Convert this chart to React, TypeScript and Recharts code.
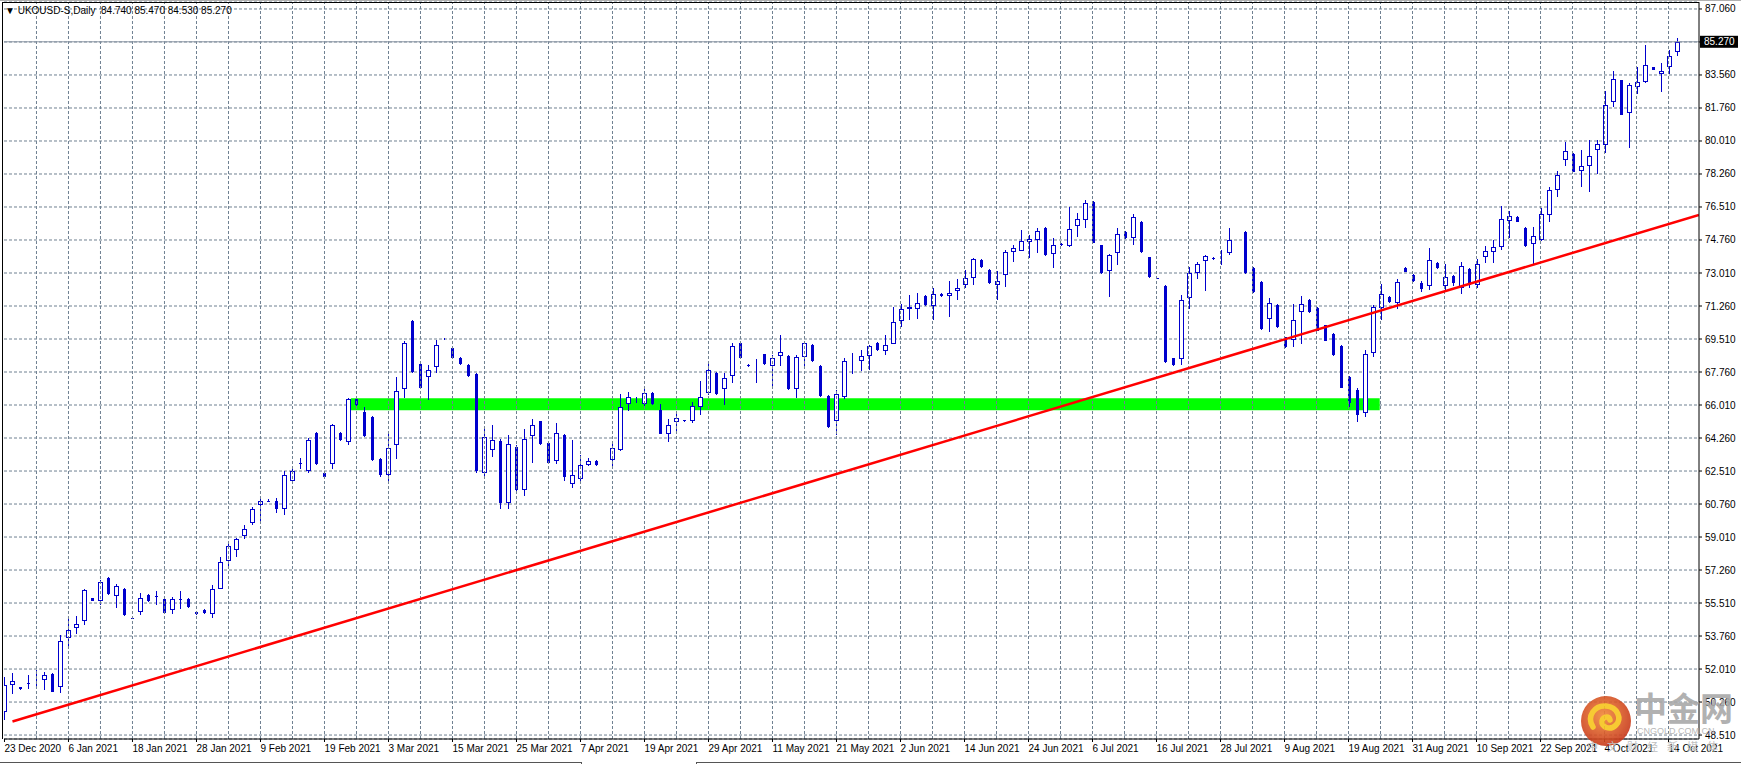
import {
  Bar,
  CartesianGrid,
  ComposedChart,
  ReferenceArea,
  ReferenceLine,
  XAxis,
  YAxis,
} from 'recharts';

const symbol = 'UKOUSD-S,Daily';
const lastQuote = ['84.740', '85.470', '84.530', '85.270'];
const lastPrice = 85.27;

// daily OHLC, 23 Dec 2020 .. 15 Oct 2021 (one bar per trading day)
const openPrices = [
  49.73, 51.16, 51.05, 51.28, 51.42, 51.41, 51.76, 51.06, 53.65, 54.18,
  54.55, 55.79, 55.62, 56.84, 55.88, 56.27, 54.72, 55.03, 55.95, 55.88,
  55.74, 55.14, 55.74, 55.74, 55.03, 55.16, 54.93, 56.27, 57.74, 58.32,
  59.06, 59.73, 60.72, 60.94, 60.9, 60.5, 62.0, 62.94, 62.5, 64.54,
  62.4, 62.86, 64.54, 64.03, 66.31, 65.64, 65.39, 63.16, 62.3, 63.87,
  66.86, 70.48, 68.2, 67.49, 68.03, 69.5, 69.05, 68.52, 68.15, 67.67,
  62.4, 63.61, 64.1, 60.8, 63.78, 61.5, 64.35, 65.16, 64.01, 63.03,
  64.44, 61.8, 62.1, 62.81, 63.06, 62.99, 63.08, 63.64, 66.05, 66.38,
  66.05, 66.66, 65.73, 64.45, 65.11, 65.22, 65.14, 65.9, 66.63, 67.72,
  66.84, 67.55, 69.32, 68.15, 68.02, 68.71, 68.08, 68.61, 68.63, 66.88,
  68.56, 69.21, 68.1, 66.5, 65.14, 66.43, 68.3, 68.34, 68.61, 69.32,
  68.87, 69.25, 70.45, 71.1, 71.1, 71.81, 71.26, 71.91, 71.79, 72.06,
  72.37, 72.74, 73.72, 73.19, 72.36, 72.89, 74.12, 74.18, 74.67, 74.76,
  75.41, 74.02, 74.56, 74.42, 75.5, 75.82, 76.79, 74.49, 73.12, 74.05,
  75.2, 74.87, 75.73, 73.86, 72.72, 72.34, 68.5, 68.43, 71.68, 73.01,
  73.65, 73.82, 73.77, 74.07, 74.76, 75.2, 73.29, 72.55, 70.57, 71.33,
  69.62, 69.46, 70.94, 71.6, 71.17, 70.23, 69.79, 69.16, 67.51, 66.82,
  65.6, 68.77, 71.15, 71.75, 71.4, 73.29, 72.92, 72.5, 72.3, 73.56,
  72.3, 72.87, 72.2, 73.24, 72.4, 73.84, 74.12, 74.37, 75.77, 75.99,
  75.41, 74.53, 74.77, 76.1, 77.42, 79.02, 79.34, 78.4, 78.69, 79.52,
  79.8, 82.06, 83.22, 81.51, 82.89, 83.15, 83.92, 83.54, 83.95, 84.74,
];
const highPrices = [
  51.59, 51.82, 51.08, 51.71, 51.94, 51.85, 51.78, 53.83, 54.68, 54.82,
  56.23, 55.8, 56.75, 56.87, 56.53, 56.29, 54.74, 56.06, 55.97, 56.16,
  55.78, 55.85, 56.13, 55.76, 55.05, 55.18, 56.45, 57.95, 58.8, 58.96,
  59.63, 60.58, 61.13, 61.0, 61.1, 62.5, 62.6, 63.2, 64.25, 64.6,
  62.5, 65.02, 64.56, 66.4, 66.4, 65.9, 65.41, 63.18, 64.54, 67.51,
  69.4, 70.5, 68.22, 68.13, 69.47, 69.55, 69.07, 68.54, 68.17, 67.69,
  64.75, 64.93, 64.2, 64.4, 63.9, 64.75, 65.29, 65.18, 64.03, 65.07,
  64.46, 64.17, 63.38, 63.22, 63.08, 63.01, 63.96, 66.61, 66.7, 66.45,
  66.88, 66.68, 66.05, 65.29, 65.67, 65.24, 66.17, 67.3, 68.36, 67.75,
  67.71, 69.32, 69.34, 68.17, 68.47, 68.73, 68.64, 69.74, 68.65, 68.64,
  69.39, 69.23, 68.12, 66.52, 66.82, 68.52, 68.79, 68.94, 69.21, 69.34,
  69.74, 71.22, 71.37, 71.86, 71.95, 71.83, 72.21, 71.93, 72.6, 72.71,
  73.15, 73.82, 73.74, 73.21, 73.1, 74.25, 74.51, 75.31, 75.03, 75.41,
  75.43, 74.88, 74.58, 76.51, 76.21, 76.88, 76.81, 74.51, 74.03, 75.41,
  75.22, 76.16, 75.75, 73.88, 72.74, 72.36, 68.52, 71.86, 73.33, 73.58,
  73.98, 73.84, 74.25, 75.4, 74.78, 75.22, 73.31, 72.57, 71.7, 71.35,
  69.64, 71.38, 71.81, 71.62, 71.19, 70.25, 69.81, 69.18, 67.55, 66.9,
  68.91, 71.33, 72.44, 71.77, 72.69, 73.31, 72.94, 72.6, 74.35, 73.6,
  73.5, 72.9, 73.61, 73.3, 73.77, 74.46, 74.78, 76.58, 76.3, 76.01,
  75.43, 75.47, 76.46, 77.55, 78.4, 79.98, 79.36, 79.52, 80.06, 80.06,
  82.65, 83.72, 83.24, 83.07, 83.92, 85.09, 83.94, 84.13, 84.83, 85.47,
];
const lowPrices = [
  49.29, 50.67, 50.9, 50.93, 50.93, 50.88, 50.77, 50.74, 53.05, 53.88,
  54.33, 55.6, 55.42, 55.95, 55.24, 54.84, 54.68, 54.86, 55.58, 55.39,
  54.94, 54.91, 55.17, 55.26, 54.89, 54.94, 54.73, 56.23, 57.37, 57.95,
  58.92, 59.63, 59.88, 60.85, 60.3, 60.2, 61.8, 62.63, 62.4, 62.85,
  62.1, 62.6, 64.12, 63.87, 65.95, 64.33, 63.06, 62.2, 62.0, 63.16,
  66.4, 67.72, 66.91, 66.26, 67.71, 69.45, 68.46, 68.15, 67.51, 62.4,
  62.2, 63.25, 60.5, 60.5, 61.3, 61.2, 62.95, 63.9, 62.93, 62.9,
  62.0, 61.6, 61.9, 62.75, 62.79, 62.97, 62.63, 63.55, 65.67, 66.1,
  65.82, 66.03, 64.47, 64.05, 64.49, 65.13, 65.04, 65.46, 66.52, 66.56,
  65.99, 67.19, 68.46, 68.04, 67.19, 68.15, 66.96, 68.06, 66.82, 66.38,
  67.94, 68.31, 66.45, 64.81, 64.44, 66.35, 67.67, 67.83, 67.88, 68.89,
  68.64, 69.23, 70.15, 70.5, 70.55, 71.28, 70.5, 71.75, 70.66, 71.56,
  72.21, 72.36, 73.29, 72.44, 71.56, 72.25, 73.58, 74.16, 73.81, 74.09,
  73.93, 73.26, 74.46, 74.39, 74.94, 75.41, 74.58, 72.97, 71.74, 73.42,
  74.83, 74.48, 74.09, 72.76, 72.68, 68.25, 68.09, 68.11, 71.12, 72.67,
  72.04, 73.71, 73.42, 73.95, 74.74, 72.97, 71.96, 70.0, 69.86, 70.11,
  69.05, 69.07, 69.23, 70.9, 69.91, 69.4, 68.62, 66.91, 65.9, 65.1,
  65.4, 68.56, 70.5, 71.43, 71.12, 73.06, 72.55, 72.0, 72.1, 73.2,
  72.1, 72.3, 71.9, 72.2, 72.2, 73.52, 73.54, 74.23, 74.87, 75.69,
  74.4, 73.5, 74.7, 75.73, 77.03, 78.69, 78.36, 77.55, 77.29, 78.25,
  79.39, 81.82, 81.39, 79.62, 82.5, 83.1, 83.75, 82.6, 83.54, 84.53,
];
const closePrices = [
  51.14, 51.37, 50.93, 51.2, 51.44, 51.71, 50.79, 53.49, 54.08, 54.4,
  56.2, 55.62, 56.62, 55.97, 56.41, 54.86, 54.7, 55.77, 55.6, 55.86,
  54.96, 55.74, 55.65, 55.28, 54.91, 54.96, 56.25, 57.68, 58.53, 58.9,
  59.43, 60.51, 60.92, 60.9, 60.5, 62.3, 62.5, 62.9, 64.15, 62.9,
  62.2, 64.97, 64.14, 66.35, 66.03, 64.35, 63.08, 62.3, 63.73, 66.75,
  69.32, 67.74, 66.93, 67.87, 69.19, 69.5, 68.48, 68.17, 67.53, 62.5,
  64.31, 64.15, 60.8, 63.96, 61.5, 64.22, 64.97, 63.92, 62.95, 64.54,
  62.2, 62.3, 62.81, 63.04, 62.81, 62.99, 63.73, 65.9, 66.43, 66.4,
  66.65, 66.05, 64.49, 64.97, 65.32, 65.15, 65.97, 66.45, 67.87, 66.58,
  67.46, 69.14, 68.48, 68.06, 68.03, 68.17, 68.5, 68.82, 66.84, 68.56,
  69.3, 68.33, 66.47, 64.83, 66.59, 68.34, 68.36, 68.61, 69.14, 68.91,
  69.19, 70.41, 71.1, 71.22, 71.42, 71.3, 71.9, 71.77, 71.95, 72.21,
  72.74, 73.77, 73.31, 72.46, 72.59, 74.12, 74.34, 74.72, 74.81, 75.24,
  73.95, 74.49, 74.48, 75.34, 75.87, 76.72, 74.6, 72.99, 73.96, 75.08,
  74.85, 75.98, 74.11, 72.78, 72.71, 68.27, 68.11, 71.58, 73.01, 73.49,
  73.91, 73.73, 73.78, 74.76, 74.76, 72.99, 71.98, 70.02, 71.42, 70.13,
  69.07, 70.53, 71.37, 70.92, 69.93, 69.42, 68.64, 66.93, 66.1, 65.5,
  68.71, 71.23, 71.88, 71.45, 72.53, 73.08, 72.57, 72.18, 73.72, 73.29,
  72.8, 72.5, 73.4, 72.4, 73.49, 74.18, 74.39, 75.87, 76.03, 75.71,
  74.42, 74.97, 76.15, 77.42, 78.22, 79.47, 78.38, 78.71, 79.21, 79.85,
  81.9, 83.3, 81.41, 82.97, 83.12, 84.05, 83.77, 83.72, 84.52, 85.27,
];

// bottom axis: one label every 8 bars
const dateLabels = [
  '23 Dec 2020', '6 Jan 2021', '18 Jan 2021', '28 Jan 2021', '9 Feb 2021',
  '19 Feb 2021', '3 Mar 2021', '15 Mar 2021', '25 Mar 2021', '7 Apr 2021',
  '19 Apr 2021', '29 Apr 2021', '11 May 2021', '21 May 2021', '2 Jun 2021',
  '14 Jun 2021', '24 Jun 2021', '6 Jul 2021', '16 Jul 2021', '28 Jul 2021',
  '9 Aug 2021', '19 Aug 2021', '31 Aug 2021', '10 Sep 2021', '22 Sep 2021',
  '4 Oct 2021', '14 Oct 2021',
];
const LABEL_EVERY = 8;
const GRID_EVERY = 4;

const priceTicks = [
  48.51, 50.26, 52.01, 53.76, 55.51, 57.26, 59.01, 60.76, 62.51, 64.26, 66.01,
  67.76, 69.51, 71.26, 73.01, 74.76, 76.51, 78.26, 80.01, 81.76, 83.51, 85.26,
  87.01,
];
const priceTickLabels = [
  '48.510', '50.260', '52.010', '53.760', '55.510', '57.260', '59.010',
  '60.760', '62.510', '64.260', '66.010', '67.760', '69.510', '71.260',
  '73.010', '74.760', '76.510', '78.260', '80.010', '81.760', '83.560', '',
  '87.060',
];

// drawn objects (bar index / price)
const supportZone = { fromBar: 43.3, toBar: 171.9, low: 65.73, high: 66.37 };
const trendLine = [
  { bar: 1, price: 49.23 },
  { bar: 211.8, price: 76.09 },
];

const X_DOMAIN: [number, number] = [-0.06, 211.81];
const Y_DOMAIN: [number, number] = [48.3, 87.38];

const BLUE = '#0000CD';
const GRID = '#6f8091';
const FONT = '"Liberation Sans", Arial, sans-serif';
const CJK = '"Noto Sans CJK SC", sans-serif';

const candles = openPrices.map((o, i) => ({
  idx: i,
  open: o,
  high: highPrices[i],
  low: lowPrices[i],
  close: closePrices[i],
  range: [lowPrices[i], highPrices[i]],
}));

const dateTicks = dateLabels.map((_, i) => i * LABEL_EVERY);
const gridBars = Array.from(
  { length: Math.floor(X_DOMAIN[1] / GRID_EVERY) },
  (_, i) => (i + 1) * GRID_EVERY,
);

function Candle(props: any) {
  const { x, y, width, height, payload } = props;
  if (x == null || y == null) return null;
  const { open, close, high, low } = payload;
  const top = Math.min(y, y + height);
  const h = Math.abs(height);
  const py = (v: number) => top + ((high - v) / (high - low)) * h;
  const cx = Math.floor(x + width / 2) + 0.5;
  const bull = close >= open;
  const yTop = Math.round(py(Math.max(open, close)));
  const yBot = Math.max(Math.round(py(Math.min(open, close))), yTop + 1);
  const yHigh = Math.round(py(high));
  const yLow = Math.round(py(low));
  return (
    <g>
      <line x1={cx} x2={cx} y1={yHigh} y2={yLow} stroke={BLUE} strokeWidth={1} />
      {bull ? (
        <rect
          x={cx - 2}
          y={yTop + 0.5}
          width={4}
          height={Math.max(yBot - yTop - 1, 0)}
          fill="#fff"
          stroke={BLUE}
          strokeWidth={1}
        />
      ) : (
        <rect x={cx - 1.5} y={yTop} width={3} height={yBot - yTop} fill={BLUE} />
      )}
    </g>
  );
}

function DateTick({ x, y, payload }: any) {
  const label = dateLabels[Math.round(payload.value / LABEL_EVERY)];
  return (
    <text x={x} y={y + 8} fontSize={10} fontFamily={FONT} fill="#000" textAnchor="start">
      {label}
    </text>
  );
}

function PriceTick({ x, y, payload }: any) {
  const i = priceTicks.indexOf(payload.value);
  return (
    <text x={x + 1} y={y + 3.5} fontSize={10} fontFamily={FONT} fill="#000" textAnchor="start">
      {priceTickLabels[i]}
    </text>
  );
}

function PriceBox({ viewBox }: any) {
  if (!viewBox) return null;
  const left = viewBox.x + viewBox.width + 1;
  return (
    <g>
      <rect x={left} y={viewBox.y - 6} width={38} height={12} fill="#000" />
      <text x={left + 4} y={viewBox.y + 3.5} fontSize={10} fontFamily={FONT} fill="#fff">
        {lastPrice.toFixed(3)}
      </text>
    </g>
  );
}

// site watermark in the lower right corner
function Watermark() {
  return (
    <svg
      width={170}
      height={74}
      style={{ position: 'absolute', left: 1571, top: 690, pointerEvents: 'none' }}
    >
      <defs>
        <radialGradient id="wm-logo" cx="45%" cy="40%" r="60%">
          <stop offset="0%" stopColor="#f28b3a" />
          <stop offset="100%" stopColor="#c8391b" />
        </radialGradient>
      </defs>
      <g opacity={0.9}>
        <circle cx={35} cy={31} r={25} fill="url(#wm-logo)" />
        <path
          d="M22 37 C15 26 24 15 35 16 C47 17 51 29 45 35 C39 41 30 37 31 31 C32 26 38 26 39 30"
          fill="none"
          stroke="#f7c51e"
          strokeWidth={5.5}
          strokeLinecap="round"
        />
      </g>
      <text x={63} y={31} fontSize={33} fontWeight={700} fontFamily={CJK} fill="#a9a9a9" opacity={0.9}>
        中金网
      </text>
      <text x={66} y={44} fontSize={9} fontFamily={FONT} fill="#b8b8b8">
        CNGOLD.COM.CN
      </text>
      <text x={16} y={61} fontSize={11} fontFamily={CJK} fill="#c0c0c0" letterSpacing={9}>
        中文财经新媒体
      </text>
    </svg>
  );
}

export default function App() {
  return (
    <div
      style={{
        position: 'absolute',
        left: 0,
        top: 0,
        width: 1741,
        height: 764,
        background: '#fff',
        overflow: 'hidden',
      }}
    >
      <ComposedChart
        width={1741}
        height={764}
        data={candles}
        margin={{ top: 2, right: 0, bottom: 0, left: 4 }}
      >
        <CartesianGrid vertical={false} stroke={GRID} strokeDasharray="3 2" />
        <XAxis
          dataKey="idx"
          type="number"
          domain={X_DOMAIN}
          allowDataOverflow
          ticks={dateTicks}
          interval={0}
          height={25}
          tick={<DateTick />}
          tickSize={3}
          axisLine={{ stroke: '#000' }}
          tickLine={{ stroke: '#000' }}
        />
        <YAxis
          orientation="right"
          domain={Y_DOMAIN}
          allowDataOverflow
          ticks={priceTicks}
          interval={0}
          width={42}
          tick={<PriceTick />}
          tickSize={3}
          axisLine={{ stroke: '#000' }}
          tickLine={{ stroke: '#000' }}
        />
        <ReferenceArea
          x1={supportZone.fromBar}
          x2={supportZone.toBar}
          y1={supportZone.low}
          y2={supportZone.high}
          fill="#00ff00"
          fillOpacity={1}
          stroke="none"
          ifOverflow="hidden"
        />
        {gridBars.map((b) => (
          <ReferenceLine key={b} x={b} stroke={GRID} strokeDasharray="3 2" />
        ))}
        <Bar dataKey="range" barSize={5} shape={<Candle />} isAnimationActive={false} />
        <ReferenceLine
          segment={[
            { x: trendLine[0].bar, y: trendLine[0].price },
            { x: trendLine[1].bar, y: trendLine[1].price },
          ]}
          stroke="#ff0000"
          strokeWidth={2.5}
          ifOverflow="hidden"
        />
        <ReferenceLine y={lastPrice} stroke="#8a96a3" strokeWidth={1} label={<PriceBox />} />
      </ComposedChart>
      <div
        style={{
          position: 'absolute',
          left: 5,
          top: 5,
          fontFamily: FONT,
          fontSize: 10,
          color: '#000',
          whiteSpace: 'pre',
        }}
      >
        {'\u25BC ' + symbol + '  ' + lastQuote.join(' ')}
      </div>
      <div style={{ position: 'absolute', left: 0, top: 0, width: 1741, height: 1, background: '#b0b0b0' }} />
      <div style={{ position: 'absolute', left: 2, top: 2, width: 1697, height: 1, background: '#000' }} />
      <div style={{ position: 'absolute', left: 2, top: 2, width: 1, height: 737, background: '#000' }} />
      <div style={{ position: 'absolute', left: 0, top: 762, width: 581, height: 2, borderTop: '1px solid #555', borderRight: '1px solid #555' }} />
      <div style={{ position: 'absolute', left: 696, top: 762, width: 1045, height: 2, borderTop: '1px solid #555', borderLeft: '1px solid #555' }} />
      <Watermark />
    </div>
  );
}
